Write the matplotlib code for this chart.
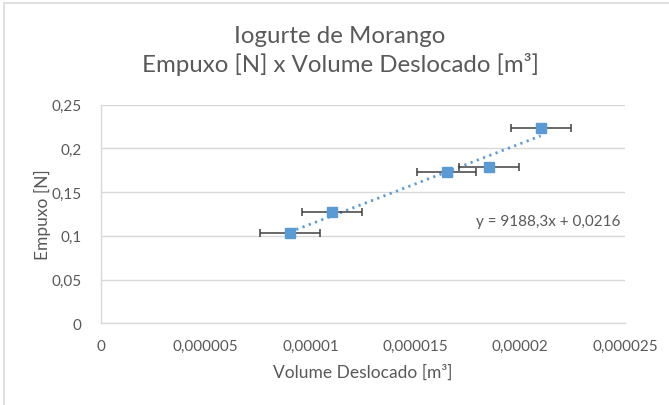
"""Empuxo x volume deslocado (iogurte de morango), Excel-style scatter with x error bars."""
import matplotlib

matplotlib.use("Agg")
import matplotlib.pyplot as plt  # noqa: E402
from matplotlib.patches import Rectangle  # noqa: E402
from matplotlib.ticker import FuncFormatter  # noqa: E402

# values
volume = [9.02e-6, 11.01e-6, 16.49e-6, 18.50e-6, 20.98e-6]   # m³
empuxo = [0.1029, 0.1276, 0.1734, 0.1788, 0.2237]            # N
volume_err = [1.42e-6] * 5
slope, intercept = 9188.3, 0.0216
x_ticks = [0, 0.000005, 0.00001, 0.000015, 0.00002, 0.000025]
y_ticks = [0, 0.05, 0.1, 0.15, 0.2, 0.25]

BLUE = "#5B9BD5"
TEXT = "#595959"
GRID = "#D9D9D9"

plt.rcParams["font.family"] = ["Lato", "DejaVu Sans"]


def comma(v, _pos=None):
    """Excel pt-BR general format: shortest decimal, comma separator."""
    s = f"{v:.10f}".rstrip("0").rstrip(".")
    return s.replace(".", ",")


fig = plt.figure(figsize=(6.69, 4.06), dpi=100)
ax = fig.add_axes([101 / 669, 1 - 324.3 / 406, 524 / 669, 218.6 / 406])

# chart border, only top/left visible in the crop
fig.patches.append(Rectangle((4 / 669, -0.1), 1.2, 1.1 - 4 / 406,
                             transform=fig.transFigure, fill=False,
                             edgecolor=GRID, linewidth=1.2))

xs = [min(volume), max(volume)]
ax.plot(xs, [slope * x + intercept for x in xs], color=BLUE,
        linestyle=(0, (0.8, 1.6)), linewidth=2.0, zorder=2)
ax.errorbar(volume, empuxo, xerr=volume_err, fmt="none", ecolor="#404040",
            elinewidth=1.1, capsize=2.7, capthick=1.1, zorder=3)
ax.plot(volume, empuxo, "s", color=BLUE, markersize=7.5, zorder=4)

ax.text(620 / 669, 1 - 222 / 406, "y = 9188,3x + 0,0216",
        transform=fig.transFigure, ha="right", va="center",
        fontsize=11, color=TEXT)

ax.set_xlim(0, 0.000025)
ax.set_ylim(0, 0.25)
ax.set_xticks(x_ticks)
ax.set_yticks(y_ticks)
ax.xaxis.set_major_formatter(FuncFormatter(comma))
ax.yaxis.set_major_formatter(FuncFormatter(comma))
ax.tick_params(length=0, labelsize=11, labelcolor=TEXT)
ax.tick_params(axis="x", pad=11)
ax.tick_params(axis="y", pad=14)
ax.grid(axis="y", color=GRID, linewidth=1.0)
ax.set_axisbelow(True)
for side in ("top", "right"):
    ax.spines[side].set_visible(False)
for side in ("left", "bottom"):
    ax.spines[side].set_color(GRID)
    ax.spines[side].set_linewidth(1.0)

ax.set_xlabel("Volume Deslocado [m³]", fontsize=12.5, color=TEXT,
              va="center", ha="center")
ax.xaxis.set_label_coords(0.5, (324.3 - 373) / 218.6)
ax.set_ylabel("Empuxo [N]", fontsize=12.5, color=TEXT,
              va="center", ha="center")
ax.yaxis.set_label_coords((42 - 101) / 524, 0.5)

fig.text(340 / 669, 1 - 43 / 406, "Iogurte de Morango", ha="center",
         va="baseline", fontsize=17.3, color=TEXT)
fig.text(340 / 669, 1 - 72 / 406, "Empuxo [N] x Volume Deslocado [m³]",
         ha="center", va="baseline", fontsize=17.3, color=TEXT)

fig.savefig("out.png", dpi=100)
